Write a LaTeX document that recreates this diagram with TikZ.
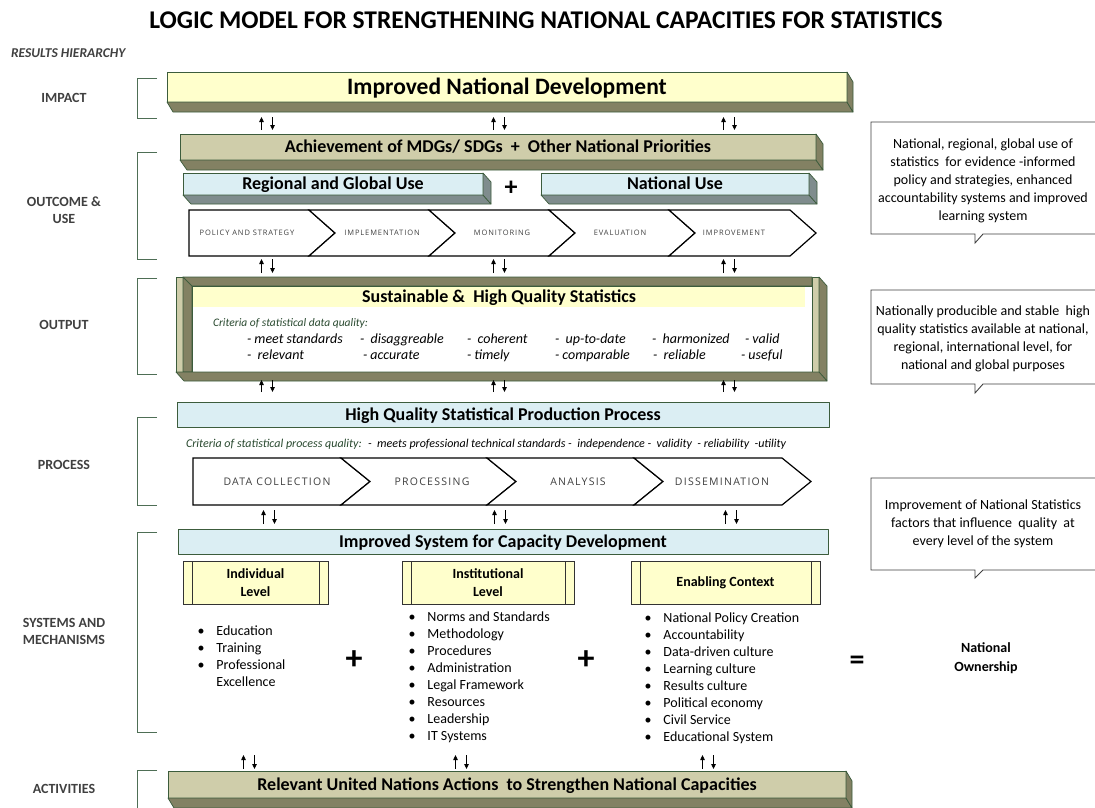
\documentclass[tikz,border=0pt]{standalone}
\usepackage{fontspec}
\setmainfont{Carlito}
\newfontfamily\chevfont[LetterSpace=12]{Open Sans}
\usetikzlibrary{arrows.meta,calc}
\definecolor{tanc}{HTML}{CFCDAA}
\definecolor{olivec}{HTML}{838163}
\definecolor{lyellow}{HTML}{FFFFCC}
\definecolor{lblue}{HTML}{DBEEF3}
\definecolor{bgreyc}{HTML}{7F8C8D}
\definecolor{bgreen}{HTML}{3C5C3C}
\definecolor{brkgreen}{HTML}{4E6E55}
\definecolor{labgrey}{HTML}{404040}
\definecolor{critgreen}{HTML}{2A4A30}
\newcommand\fs[2]{\fontsize{#1}{#2}\selectfont}
\newcommand\extrude[4]{%
  \filldraw[face,fill=#4] (#1.south west) -- ($(#1.south west)+(#2,#3)$) -- ($(#1.south east)+(#2,#3)$) -- (#1.south east) -- cycle;
  \filldraw[face,fill=#4] (#1.north east) -- ($(#1.north east)+(#2,#3)$) -- ($(#1.south east)+(#2,#3)$) -- (#1.south east) -- cycle;
}
\begin{document}
\begin{tikzpicture}[x=1pt,y=-1pt,
  every node/.style={inner sep=0pt,outer sep=0pt},
  face/.style={draw=bgreen,line width=0.7pt,line join=round},
  boxtxt/.style={font=\fs{18}{20}\bfseries,text height=11.6pt,text depth=0pt},
  brk/.style={draw=brkgreen,line width=1pt},
  arr/.style={line width=0.8pt,-{Triangle[length=5pt,width=4.5pt]}},
  lab/.style={font=\fs{14}{16.5}\bfseries,text=labgrey,align=center},
  crit/.style={font=\fs{14}{16}\itshape,anchor=base west},
  chev/.style={draw=black,line width=1.2pt,fill=white,line join=miter},
  chevtxt/.style={font=\chevfont\fs{10.5}{12},text=labgrey},
  chevtxts/.style={font=\chevfont\fs{7.5}{9},text=labgrey},
  lvl/.style={draw=black!80,line width=0.9pt,fill=lyellow,minimum height=43,font=\fs{14}{18}\bfseries,align=center},
  lst/.style={anchor=north west,font=\fs{14}{17}},
  call/.style={draw=labgrey,line width=0.9pt,fill=white},
  calltxt/.style={font=\fs{14}{18},align=center}
]
\useasboundingbox (0,0) rectangle (1095,807);
\clip (0,0) rectangle (1095,807);
\fill[white] (0,0) rectangle (1095,807);

% title and left column
\node[font=\fs{25.5}{28}\bfseries] (title) at (546,20) {LOGIC MODEL FOR STRENGTHENING NATIONAL CAPACITIES FOR STATISTICS};
\node[anchor=west,font=\fs{13.5}{15}\bfseries\itshape,text=labgrey] (rh) at (11,53) {RESULTS HIERARCHY};
\node[lab] (limpact) at (64,98) {IMPACT};
\node[lab] (loutcome) at (64,210) {OUTCOME \&\\USE};
\node[lab] (loutput) at (64,325) {OUTPUT};
\node[lab] (lprocess) at (64,465) {PROCESS};
\node[lab] (lsystems) at (64,631.5) {SYSTEMS AND\\MECHANISMS};
\node[lab] (lactivities) at (64,789) {ACTIVITIES};

% brackets
\draw[brk] (157,78) -- (137,78) -- (137,118) -- (157,118);
\draw[brk] (157,152) -- (137,152) -- (137,259) -- (157,259);
\draw[brk] (157,278) -- (137,278) -- (137,374) -- (157,374);
\draw[brk] (157,417) -- (137,417) -- (137,505) -- (157,505);
\draw[brk] (157,532) -- (137,532) -- (137,732) -- (157,732);
\draw[brk] (157,770) -- (137,770) -- (137,812);

% impact
\node[face,fill=lyellow,minimum width=680,minimum height=30,font=\fs{23.5}{26}\bfseries,text height=15.1pt,text depth=0pt] (impact) at (507,87) {Improved National Development};
\extrude{impact}{6}{10}{olivec}

% outcome
\node[face,fill=tanc,minimum width=636,minimum height=26,boxtxt] (achieve) at (498,147) {Achievement of MDGs/ SDGs~ +~ Other National Priorities};
\extrude{achieve}{7}{10}{olivec}
\node[face,fill=lblue,minimum width=300,minimum height=22,boxtxt] (regional) at (333,184) {Regional and Global Use};
\extrude{regional}{8}{9}{bgreyc}
\node[font=\fs{26}{28}\bfseries] (plustop) at (511,188) {+};
\node[face,fill=lblue,minimum width=268,minimum height=22,boxtxt] (national) at (675,184) {National Use};
\extrude{national}{8}{9}{bgreyc}

% outcome chevrons
\draw[chev] (189,210) -- (309,210) -- (335,233) -- (309,256) -- (189,256) -- cycle;
\foreach \a/\b in {309/429,429/549,549/669,669/790}
  \draw[chev] (\a,210) -- (\b,210) -- ({\b+26},233) -- (\b,256) -- (\a,256) -- ({\a+26},233) -- cycle;
\node[chevtxts] (ch1) at (247,233) {POLICY AND STRATEGY};
\node[chevtxts] (ch2) at (382,233) {IMPLEMENTATION};
\node[chevtxts] (ch3) at (502,233) {MONITORING};
\node[chevtxts] (ch4) at (620,233) {EVALUATION};
\node[chevtxts] (ch5) at (734,233) {IMPROVEMENT};

% output frame
\node[anchor=north west,minimum width=643,minimum height=95] (outbox) at (176,277) {};
\filldraw[face,fill=tanc] (176,277) rectangle (183,372);
\filldraw[face,fill=tanc] (812,277) rectangle (819,372);
\filldraw[face,fill=olivec] (183,277) -- (812,277) -- (812,286) -- (192,286) -- cycle;
\filldraw[face,fill=olivec] (183,277) -- (192,286) -- (192,372) -- (183,372) -- cycle;
\filldraw[face,fill=white] (192,286) rectangle (812,372);
\filldraw[face,fill=olivec] (819,277) -- (827,286) -- (827,381) -- (819,372) -- cycle;
\filldraw[face,fill=olivec] (176,372) -- (819,372) -- (827,381) -- (184,381) -- cycle;
\node[anchor=north west,fill=lyellow,minimum width=612,minimum height=20,boxtxt] (sust) at (193,287) {Sustainable \&~ High Quality Statistics};
\node[crit,font=\fs{11.5}{14}\itshape,text=critgreen] (critdata) at (213,326) {Criteria of statistical data quality:};
\foreach \x/\t [count=\i] in {247/{- meet standards},360/{-~ disaggreable},467/{-~ coherent},555/{-~ up-to-date},652/{-~ harmonized},745/{- valid}}
  \node[crit] (cra\i) at (\x,343) {\t};
\foreach \x/\t [count=\i] in {247/{-~ relevant},363/{- accurate},467/{- timely},555/{- comparable},653/{-~ reliable},741/{- useful}}
  \node[crit] (crb\i) at (\x,359) {\t};

% process
\node[face,fill=lblue,minimum width=652,minimum height=25,boxtxt] (hqspp) at (503,414.5) {High Quality Statistical Production Process};
\node[anchor=base west,font=\fs{12}{14}\itshape] (critproc) at (186,447) {\textcolor{critgreen}{Criteria of statistical process quality:}~ -~ meets professional technical standards -~ independence -~ validity~ - reliability~ -utility};
\draw[chev] (193,458) -- (341,458) -- (370,481.5) -- (341,505) -- (193,505) -- cycle;
\foreach \a/\b in {341/487,487/634,634/782}
  \draw[chev] (\a,458) -- (\b,458) -- ({\b+29},481.5) -- (\b,505) -- (\a,505) -- ({\a+29},481.5) -- cycle;
\node[chevtxt] (pc1) at (277,481.5) {DATA COLLECTION};
\node[chevtxt] (pc2) at (432,481.5) {PROCESSING};
\node[chevtxt] (pc3) at (578,481.5) {ANALYSIS};
\node[chevtxt] (pc4) at (722,481.5) {DISSEMINATION};

% systems
\node[face,fill=lblue,minimum width=650,minimum height=25,boxtxt] (iscd) at (503,541.5) {Improved System for Capacity Development};
\node[lvl,minimum width=145] (indiv) at (255.5,582.5) {Individual\\Level};
\node[lvl,minimum width=172] (instit) at (488,582.5) {Institutional\\Level};
\node[lvl,minimum width=189] (enabl) at (725.5,582.5) {Enabling Context};
\draw[black!80,line width=0.9pt] ($(indiv.north west)+(9,0)$) -- ($(indiv.south west)+(9,0)$) ($(indiv.north east)+(-9,0)$) -- ($(indiv.south east)+(-9,0)$);
\draw[black!80,line width=0.9pt] ($(instit.north west)+(9,0)$) -- ($(instit.south west)+(9,0)$) ($(instit.north east)+(-9,0)$) -- ($(instit.south east)+(-9,0)$);
\draw[black!80,line width=0.9pt] ($(enabl.north west)+(9,0)$) -- ($(enabl.south west)+(9,0)$) ($(enabl.north east)+(-9,0)$) -- ($(enabl.south east)+(-9,0)$);
\node[lst] (indlist) at (197.5,623.6) {\begin{tabular}{@{}l@{\hspace{12pt}}l@{}}\textbullet & Education\\ \textbullet & Training\\ \textbullet & Professional\\ & Excellence\end{tabular}};
\node[lst] (instlist) at (408.5,609.6) {\begin{tabular}{@{}l@{\hspace{12pt}}l@{}}\textbullet & Norms and Standards\\ \textbullet & Methodology\\ \textbullet & Procedures\\ \textbullet & Administration\\ \textbullet & Legal Framework\\ \textbullet & Resources\\ \textbullet & Leadership\\ \textbullet & IT Systems\end{tabular}};
\node[lst] (enlist) at (644.5,610.6) {\begin{tabular}{@{}l@{\hspace{12pt}}l@{}}\textbullet & National Policy Creation\\ \textbullet & Accountability\\ \textbullet & Data-driven culture\\ \textbullet & Learning culture\\ \textbullet & Results culture\\ \textbullet & Political economy\\ \textbullet & Civil Service\\ \textbullet & Educational System\end{tabular}};
\node[font=\fs{34}{36}\bfseries] (plusa) at (354,660) {+};
\node[font=\fs{34}{36}\bfseries] (plusb) at (586,660) {+};
\node[font=\fs{30}{32}\bfseries] (eqs) at (857,663) {=};
\node[font=\fs{14}{19}\bfseries,align=center] (ownership) at (986,658.5) {National\\Ownership};

% activities
\node[face,fill=tanc,minimum width=678,minimum height=27,boxtxt] (activ) at (507,784.5) {Relevant United Nations Actions~ to Strengthen National Capacities};
\extrude{activ}{6}{10}{olivec}

% callouts
\draw[call] (871,122) -- (1100,122) -- (1100,234) -- (983,234) -- (975,243) -- (975,234) -- (871,234) -- cycle;
\node[calltxt] (call1) at (983,181) {National, regional, global use of\\statistics~ for evidence -informed\\policy and strategies, enhanced\\accountability systems and improved\\learning system};
\draw[call] (871,290) -- (1100,290) -- (1100,384) -- (983,384) -- (975,393) -- (975,384) -- (871,384) -- cycle;
\node[calltxt] (call2) at (983,338.5) {Nationally producible and stable~ high\\quality statistics available at national,\\regional, international level, for\\national and global purposes};
\draw[call] (871,478) -- (1100,478) -- (1100,570) -- (983,570) -- (975,578) -- (975,570) -- (871,570) -- cycle;
\node[calltxt] (call3) at (983,524) {Improvement of National Statistics\\factors that influence~ quality~ at\\every level of the system};

% arrow pairs
\foreach \r/\yt/\yb/\ca/\cb/\cc in {A/117/130/267/499/729,B/259/273/267/499/729,C/380/392/267/499/729,D/510/524/269/500/731,E/755/769/249/461/708}{
  \foreach \cx [count=\k] in {\ca,\cb,\cc}{
    \coordinate (u\r\k t) at ({\cx-5.5},\yt);
    \coordinate (u\r\k b) at ({\cx-5.5},\yb);
    \coordinate (d\r\k t) at ({\cx+5.5},\yt);
    \coordinate (d\r\k b) at ({\cx+5.5},\yb);
    \draw[arr] (u\r\k b) -- (u\r\k t);
    \draw[arr] (d\r\k t) -- (d\r\k b);
  }
}
\end{tikzpicture}
\end{document}
